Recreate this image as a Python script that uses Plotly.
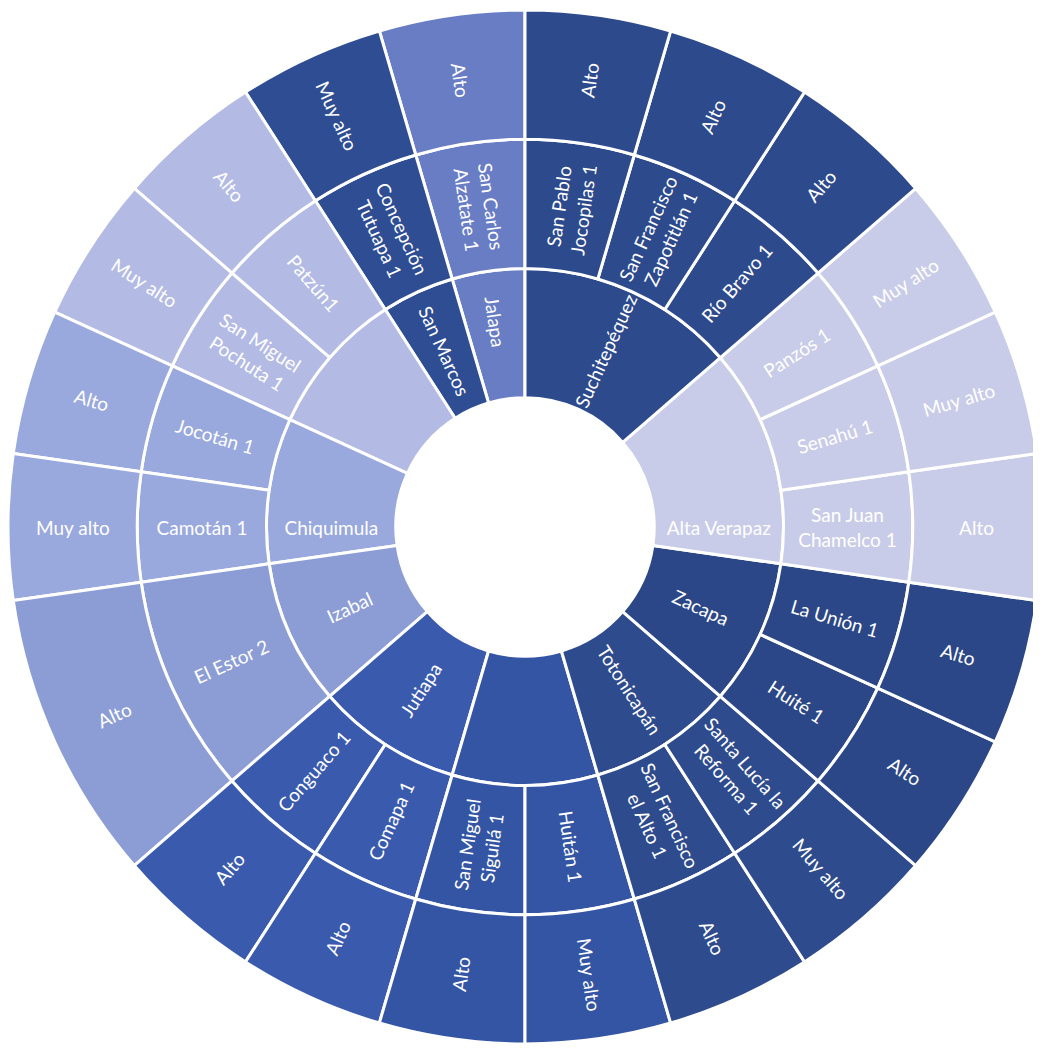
import plotly.graph_objects as go

# Departments, listed clockwise from 12 o'clock
departments = ["Suchitepéquez", "Alta Verapaz", "Zacapa", "Totonicapán", "Quetzaltenango",
               "Jutiapa", "Izabal", "Chiquimula", "Chimaltenango", "San Marcos", "Jalapa"]
dept_text = ["Suchitepéquez", "Alta Verapaz", "Zacapa", "Totonicapán", "",
             "Jutiapa", "Izabal", "Chiquimula", "", "San Marcos", "Jalapa"]
dept_colors = ["#2c4a8c", "#c9cce8", "#2b4787", "#2e4b8d", "#3355a3",
               "#3a5bad", "#8c9dd5", "#99a8dd", "#b3bbe4", "#2e4d93", "#687dc4"]

# Municipalities (clockwise), their department, count and risk level
mun_dept = ["Suchitepéquez", "Suchitepéquez", "Suchitepéquez",
            "Alta Verapaz", "Alta Verapaz", "Alta Verapaz",
            "Zacapa", "Zacapa",
            "Totonicapán", "Totonicapán",
            "Quetzaltenango", "Quetzaltenango",
            "Jutiapa", "Jutiapa",
            "Izabal",
            "Chiquimula", "Chiquimula",
            "Chimaltenango", "Chimaltenango",
            "San Marcos",
            "Jalapa"]
mun_names = ["San Pablo Jocopilas", "San Francisco Zapotitlán", "Río Bravo",
             "Panzós", "Senahú", "San Juan Chamelco",
             "La Unión", "Huité",
             "Santa Lucía la Reforma", "San Francisco el Alto",
             "Huitán", "San Miguel Siguilá",
             "Comapa", "Conguaco",
             "El Estor",
             "Camotán", "Jocotán",
             "San Miguel Pochuta", "Patzún",
             "Concepción Tutuapa",
             "San Carlos Alzatate"]
mun_text = ["San Pablo<br>Jocopilas 1", "San Francisco<br>Zapotitlán 1", "Río Bravo 1",
            "Panzós 1", "Senahú 1", "San Juan<br>Chamelco 1",
            "La Unión 1", "Huité 1",
            "Santa Lucía la<br>Reforma 1", "San Francisco<br>el Alto 1",
            "Huitán 1", "San Miguel<br>Siguilá 1",
            "Comapa 1", "Conguaco 1",
            "El Estor 2",
            "Camotán 1", "Jocotán 1",
            "San Miguel<br>Pochuta 1", "Patzún1",
            "Concepción<br>Tutuapa 1",
            "San Carlos<br>Alzatate 1"]
mun_values = [1, 1, 1, 1, 1, 1, 1, 1, 1, 1, 1, 1, 1, 1, 2, 1, 1, 1, 1, 1, 1]
mun_risk = ["Alto", "Alto", "Alto",
            "Muy alto", "Muy alto", "Alto",
            "Alto", "Alto",
            "Muy alto", "Alto",
            "Muy alto", "Alto",
            "Alto", "Alto",
            "Alto",
            "Muy alto", "Alto",
            "Muy alto", "Alto",
            "Muy alto",
            "Alto"]

color_of = dict(zip(departments, dept_colors))
dept_value = {d: 0 for d in departments}
for d, v in zip(mun_dept, mun_values):
    dept_value[d] += v

ids, labels, parents, values, texts, colors = [], [], [], [], [], []
ids.append("root"); labels.append(""); parents.append(""); values.append(sum(mun_values))
texts.append(""); colors.append("white")

# plotly lays sectors counterclockwise, so add in reversed order
for d, t in reversed(list(zip(departments, dept_text))):
    ids.append(d); labels.append(d); parents.append("root"); values.append(dept_value[d])
    texts.append(t); colors.append(color_of[d])
    idx = [i for i, md in enumerate(mun_dept) if md == d]
    for i in reversed(idx):
        mid = d + "/" + mun_names[i]
        ids.append(mid); labels.append(mun_names[i]); parents.append(d)
        values.append(mun_values[i]); texts.append(mun_text[i]); colors.append(color_of[d])
        rid = mid + "/" + mun_risk[i]
        ids.append(rid); labels.append(mun_risk[i]); parents.append(mid)
        values.append(mun_values[i]); texts.append(mun_risk[i]); colors.append(color_of[d])

fig = go.Figure(go.Sunburst(
    ids=ids, labels=labels, parents=parents, values=values,
    branchvalues="total", sort=False, rotation=90,
    text=texts, texttemplate="%{text}",
    insidetextorientation="radial",
    marker=dict(colors=colors, line=dict(color="white", width=3)),
    leaf=dict(opacity=1),
    insidetextfont=dict(family="Lato", size=19, color="white"),
    domain=dict(x=[0, 1034 / 1041], y=[15 / 1051, 1049 / 1051]),
))
fig.update_layout(width=1041, height=1051, margin=dict(l=0, r=0, t=0, b=0),
                  paper_bgcolor="white", showlegend=False,
                  uniformtext=dict(minsize=19, mode="show"))
fig.write_html("out.html")
